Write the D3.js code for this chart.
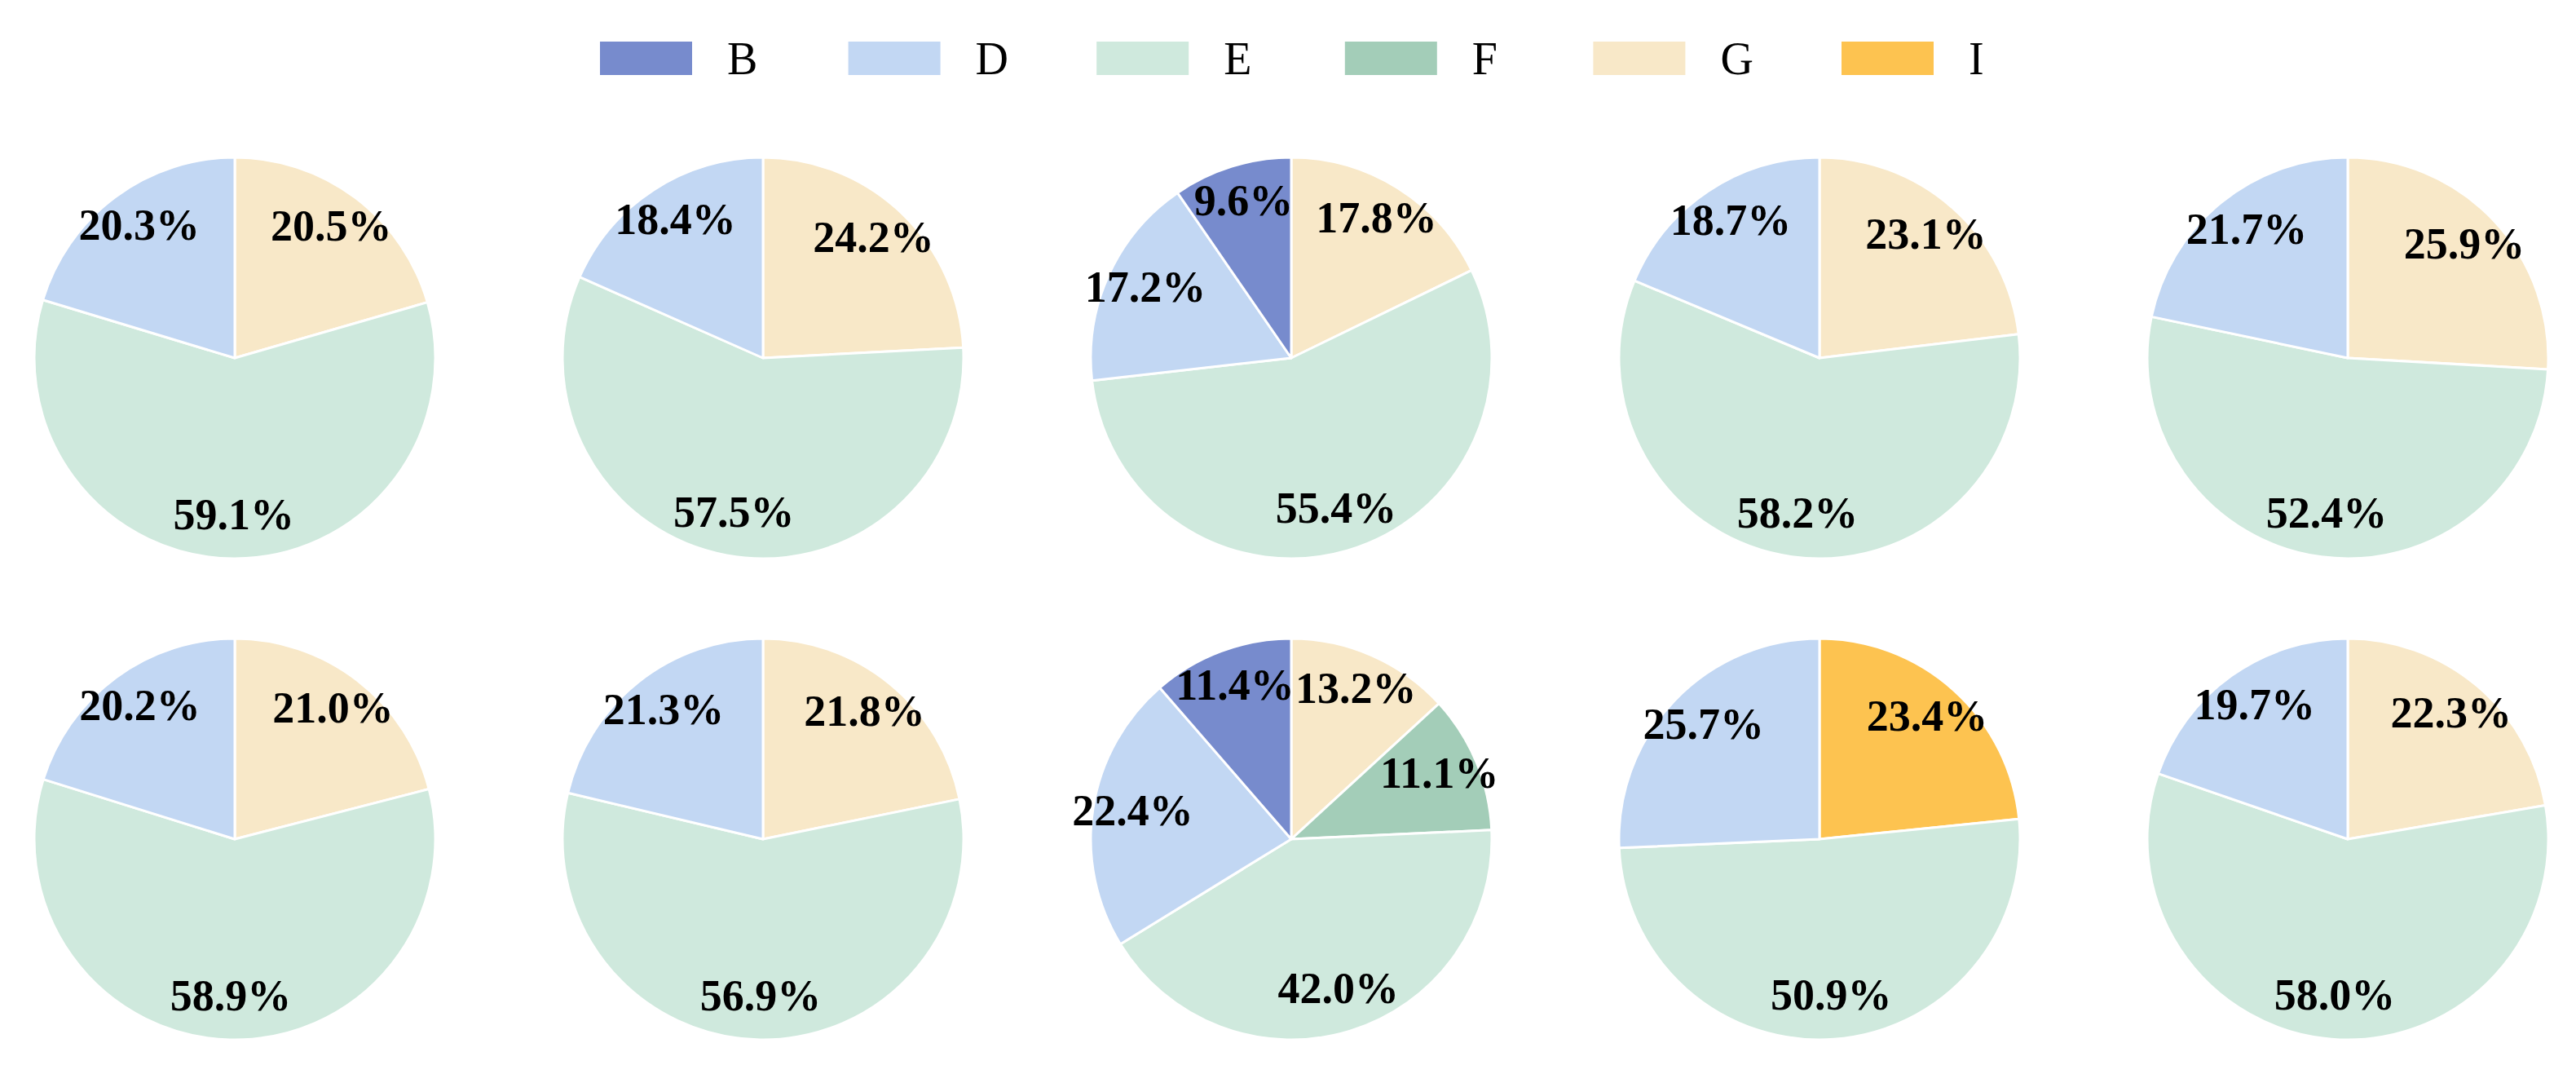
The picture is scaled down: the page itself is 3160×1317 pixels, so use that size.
<!DOCTYPE html>
<html>

<head>
    <style>
        body {
            margin: 0;
            background: #fff;
        }

        .pct {
            font-family: "Liberation Serif", "Times New Roman", serif;
            font-weight: bold;
            font-size: 54px;
        }

        .legend-label {
            font-family: "Liberation Serif", "Times New Roman", serif;
            font-size: 56px;
        }
    </style>
    <script src="https://d3js.org/d3.v7.min.js" charset="utf-8"></script>
</head>

<body>
    <script>
        // categories in legend order (matplotlib order, counterclockwise from 12 o'clock)
        const categories = ["B", "D", "E", "F", "G", "I"];
        const colors = ["#778bcd", "#c2d7f3", "#cfe9dd", "#a3cdb8", "#f8e8c8", "#fdc350"];

        // one value per pie (10 pies, row by row); 0 = category absent
        const seriesB = [0, 0, 9.6, 0, 0, 0, 0, 11.4, 0, 0];
        const seriesD = [20.3, 18.4, 17.2, 18.7, 21.7, 20.2, 21.3, 22.4, 25.7, 19.7];
        const seriesE = [59.1, 57.5, 55.4, 58.2, 52.4, 58.9, 56.9, 42.0, 50.9, 58.0];
        const seriesF = [0, 0, 0, 0, 0, 0, 0, 11.1, 0, 0];
        const seriesG = [20.5, 24.2, 17.8, 23.1, 25.9, 21.0, 21.8, 13.2, 0, 22.3];
        const seriesI = [0, 0, 0, 0, 0, 0, 0, 0, 23.4, 0];

        const allSeries = [seriesB, seriesD, seriesE, seriesF, seriesG, seriesI];

        const w = 3160;
        const h = 1317;
        const radius = 246;
        const nCols = 5;

        const color = d3.scaleOrdinal()
            .domain(categories)
            .range(colors);

        const xScale = d3.scalePoint()
            .domain(d3.range(nCols))
            .range([288, 2880]);

        const yScale = d3.scalePoint()
            .domain([0, 1])
            .range([439, 1029]);

        const svg = d3.select("body")
            .append("svg")
            .attr("width", w)
            .attr("height", h);

        // d3 goes clockwise, matplotlib counterclockwise -> feed categories reversed
        const pie = d3.pie()
            .sort(null)
            .value((d) => d.value);

        const arc = d3.arc()
            .innerRadius(0)
            .outerRadius(radius);

        const labelArc = d3.arc()
            .innerRadius(radius * 0.8)
            .outerRadius(radius * 0.8);

        const pies = d3.range(seriesD.length).map((i) =>
            categories.map((c, k) => ({ key: c, value: allSeries[k][i] }))
                .filter((d) => d.value > 0)
                .reverse()
        );

        const g = svg.selectAll("g.pie")
            .data(pies)
            .enter()
            .append("g")
            .attr("class", "pie")
            .attr("transform", (d, i) =>
                "translate(" + xScale(i % nCols) + "," + yScale(Math.floor(i / nCols)) + ")");

        g.selectAll("path")
            .data((d) => pie(d))
            .enter()
            .append("path")
            .attr("d", arc)
            .attr("fill", (d) => color(d.data.key))
            .attr("stroke", "#fff")
            .attr("stroke-width", 3)
            .attr("stroke-linejoin", "round");

        g.selectAll("text")
            .data((d) => pie(d))
            .enter()
            .append("text")
            .attr("class", "pct")
            .attr("transform", (d) => "translate(" + labelArc.centroid(d) + ")")
            .attr("text-anchor", "middle")
            .attr("dy", "0.24em")
            .text((d) => d.data.value.toFixed(1) + "%");

        // legend
        const legend = svg.selectAll("g.legend")
            .data(categories)
            .enter()
            .append("g")
            .attr("class", "legend")
            .attr("transform", (d, i) => "translate(" + (736 + i * 304.6) + ",51)");

        legend.append("rect")
            .attr("width", 113)
            .attr("height", 41)
            .attr("fill", (d) => color(d));

        legend.append("text")
            .attr("class", "legend-label")
            .attr("x", 156)
            .attr("y", 40)
            .text((d) => d);
    </script>
</body>

</html>
